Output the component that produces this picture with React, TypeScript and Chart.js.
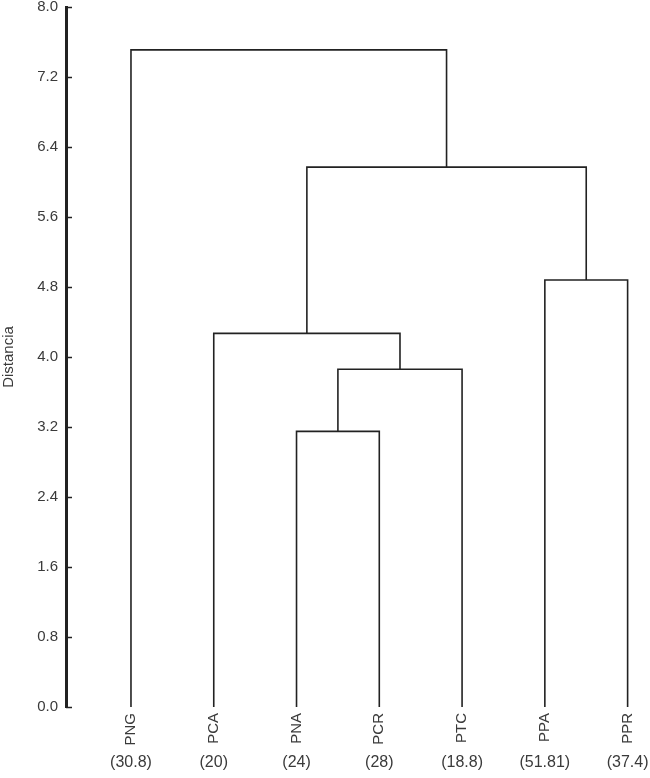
import React, { useEffect, useRef } from "react";
import { Chart, registerables } from "chart.js";

Chart.register(...registerables);

const leaves = ["PNG", "PCA", "PNA", "PCR", "PTC", "PPA", "PPR"];
const leafValues = ["(30.8)", "(20)", "(24)", "(28)", "(18.8)", "(51.81)", "(37.4)"];
// merges: [left node, right node, distance]; nodes 0..6 are leaves, 7+ are clusters in merge order
const mergeLeft = [2, 7, 1, 5, 9, 0];
const mergeRight = [3, 4, 8, 6, 10, 11];
const mergeHeight = [3.15, 3.86, 4.27, 4.88, 6.17, 7.51];
const yTickValues = [0, 0.8, 1.6, 2.4, 3.2, 4.0, 4.8, 5.6, 6.4, 7.2, 8.0];

const LINE = "#222222";
const TEXT = "#3a3a3a";
const FONT = "'Liberation Sans', Arial, Helvetica, sans-serif";

function buildLinks() {
  const xs: number[] = leaves.map((_, i) => i);
  const ys: number[] = leaves.map(() => 0);
  const links: { x: number; y: number }[][] = [];
  for (let m = 0; m < mergeHeight.length; m++) {
    const a = mergeLeft[m];
    const b = mergeRight[m];
    const h = mergeHeight[m];
    links.push([
      { x: xs[a], y: ys[a] },
      { x: xs[a], y: h },
      { x: xs[b], y: h },
      { x: xs[b], y: ys[b] },
    ]);
    xs.push((xs[a] + xs[b]) / 2);
    ys.push(h);
  }
  return links;
}

const inwardTicks = {
  id: "inwardTicks",
  afterDraw(chart: any) {
    const y = chart.scales.y;
    const ctx = chart.ctx;
    const left = chart.chartArea.left;
    ctx.save();
    ctx.strokeStyle = LINE;
    ctx.lineWidth = 1.5;
    for (const v of yTickValues) {
      const py = Math.round(y.getPixelForValue(v)) + 0.5;
      ctx.beginPath();
      ctx.moveTo(left, py);
      ctx.lineTo(left + 6, py);
      ctx.stroke();
    }
    ctx.restore();
  },
};

export default function App() {
  const ref = useRef<HTMLCanvasElement | null>(null);
  useEffect(() => {
    document.body.style.margin = "0";
    const links = buildLinks();
    const chart = new Chart(ref.current as HTMLCanvasElement, {
      type: "scatter",
      data: {
        datasets: links.map((pts) => ({
          data: pts,
          showLine: true,
          borderColor: LINE,
          borderWidth: 1.6,
          pointRadius: 0,
          fill: false,
        })),
      },
      options: {
        animation: false,
        responsive: false,
        maintainAspectRatio: false,
        layout: { padding: { top: 7, right: 5, left: 0, bottom: 0 } },
        plugins: { legend: { display: false }, tooltip: { enabled: false } },
        scales: {
          x: {
            type: "linear",
            position: "bottom",
            weight: 0,
            min: -0.785,
            max: 6.21,
            grid: { display: false, drawTicks: false },
            border: { display: false },
            afterBuildTicks: (s: any) => {
              s.ticks = leaves.map((_, i) => ({ value: i }));
            },
            afterFit: (s: any) => {
              s.height = 46;
              s.paddingLeft = 0;
              s.paddingRight = 0;
            },
            ticks: {
              autoSkip: false,
              minRotation: 90,
              maxRotation: 90,
              padding: 6,
              color: TEXT,
              font: { family: FONT, size: 15 },
              callback: (v: any) => leaves[Math.round(Number(v))] ?? "",
            },
          },
          x2: {
            type: "linear",
            position: "bottom",
            weight: 1,
            min: -0.785,
            max: 6.21,
            grid: { display: false, drawTicks: false },
            border: { display: false },
            afterBuildTicks: (s: any) => {
              s.ticks = leafValues.map((_, i) => ({ value: i }));
            },
            afterFit: (s: any) => {
              s.height = 25;
              s.paddingLeft = 0;
              s.paddingRight = 0;
            },
            ticks: {
              autoSkip: false,
              minRotation: 0,
              maxRotation: 0,
              padding: 0,
              color: TEXT,
              font: { family: FONT, size: 16 },
              callback: (v: any) => leafValues[Math.round(Number(v))] ?? "",
            },
          },
          y: {
            type: "linear",
            min: 0,
            max: 8,
            afterBuildTicks: (s: any) => {
              s.ticks = yTickValues.map((v) => ({ value: v }));
            },
            afterFit: (s: any) => {
              s.width = 66;
              s.paddingTop = 0;
              s.paddingBottom = 0;
            },
            grid: { display: false, drawTicks: false },
            border: { display: true, color: LINE, width: 3 },
            title: {
              display: true,
              text: "Distancia",
              color: TEXT,
              font: { family: FONT, size: 15 },
              padding: { top: 0, bottom: 0 },
            },
            ticks: {
              padding: 8,
              color: TEXT,
              font: { family: FONT, size: 15 },
              callback: (v: any) => Number(v).toFixed(1),
            },
          },
        },
      },
      plugins: [inwardTicks],
    });
    return () => chart.destroy();
  }, []);
  return (
    <div style={{ width: 650, height: 778 }}>
      <canvas ref={ref} width={650} height={778} style={{ display: "block" }} />
    </div>
  );
}
